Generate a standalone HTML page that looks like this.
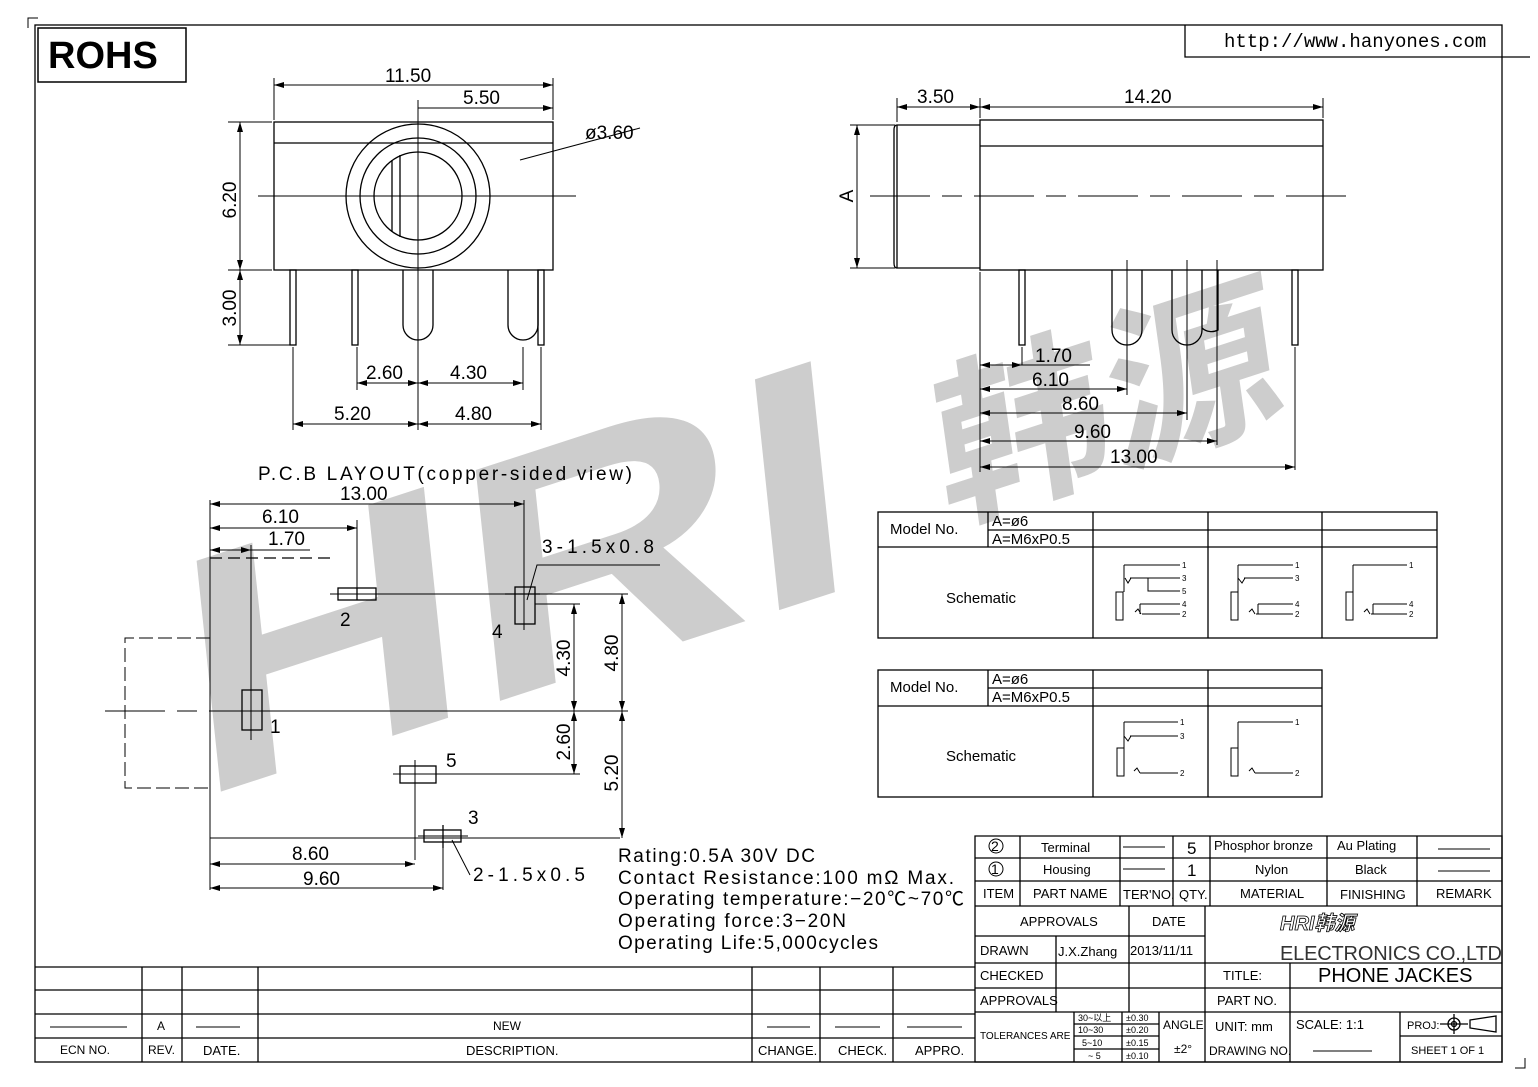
<!DOCTYPE html>
<html><head><meta charset="utf-8"><style>
html,body{margin:0;padding:0;background:#fff}
svg{display:block}
text{font-family:"Liberation Sans","Noto Sans CJK SC",sans-serif;fill:#000}
</style></head><body>
<svg width="1538" height="1087" viewBox="0 0 1538 1087" xmlns="http://www.w3.org/2000/svg">
<defs>
<marker id="a" viewBox="0 0 10 6" refX="10" refY="3" markerWidth="10" markerHeight="6" orient="auto-start-reverse" markerUnits="userSpaceOnUse"><path d="M0,0L10,3L0,6z" fill="#000"/></marker>
</defs>
<!-- watermark -->
<text transform="translate(195,800) rotate(-18) skewX(-12)" font-size="330" font-weight="bold" textLength="700" lengthAdjust="spacingAndGlyphs" style="fill:#cdcdcd">HRI</text>
<text transform="translate(945,520) rotate(-18) skewX(-10)" font-size="175" font-weight="bold" textLength="360" lengthAdjust="spacingAndGlyphs" style="fill:#cdcdcd;font-family:'Noto Sans CJK SC',sans-serif">韩源</text>
<g fill="none" stroke="#000" stroke-width="1.3">
<!-- frame -->
<rect x="35" y="25" width="1467" height="1037"/>
<path d="M28,28V18H38 M1525,1058V1068H1515" stroke-width="1"/>
<rect x="38" y="28" width="148" height="54" stroke-width="1.5"/>
<path d="M1185,25V57H1530"/>
<!-- front view -->
<rect x="274" y="122" width="279" height="148"/>
<line x1="274" y1="143" x2="553" y2="143"/>
<circle cx="418" cy="196" r="72"/><circle cx="418" cy="196" r="58"/><circle cx="418" cy="196" r="44"/>
<path d="M392,160V232M400,155V237"/>
<line x1="258" y1="196" x2="576" y2="196" stroke-width="1"/>
<line x1="418" y1="100" x2="418" y2="360" stroke-width="1"/>
<path d="M520,160L640,128" stroke-width="1"/>
<rect x="290" y="270" width="6" height="75"/><rect x="352" y="270" width="6" height="75"/>
<path d="M403,270V325A15,15 0 0 0 433,325V270"/>
<path d="M508,270V325A15,15 0 0 0 538,325V270"/><rect x="538" y="270" width="6" height="75"/>
<g stroke-width="1">
<path d="M274,120V78M553,120V78M228,122H272M228,270H272M228,345H290M293,347V430M357,347V390M418,347V430M523,347V390M541,347V430"/>
<line x1="274" y1="85" x2="553" y2="85" marker-start="url(#a)" marker-end="url(#a)"/>
<line x1="418" y1="108" x2="553" y2="108" marker-end="url(#a)"/>
<line x1="240" y1="122" x2="240" y2="270" marker-start="url(#a)" marker-end="url(#a)"/>
<line x1="240" y1="270" x2="240" y2="345" marker-start="url(#a)" marker-end="url(#a)"/>
<line x1="357" y1="383" x2="418" y2="383" marker-start="url(#a)" marker-end="url(#a)"/>
<line x1="418" y1="383" x2="523" y2="383" marker-start="url(#a)" marker-end="url(#a)"/>
<line x1="293" y1="424" x2="418" y2="424" marker-start="url(#a)" marker-end="url(#a)"/>
<line x1="418" y1="424" x2="541" y2="424" marker-start="url(#a)" marker-end="url(#a)"/>
</g>
<!-- side view -->
<path d="M897,125Q894,125 894,130V263Q894,268 897,268H980"/>
<path d="M897,125H980"/><line x1="897" y1="125" x2="897" y2="268"/>
<rect x="980" y="120" width="343" height="150"/>
<line x1="980" y1="146" x2="1323" y2="146"/>
<line x1="870" y1="196" x2="1350" y2="196" stroke-width="1" stroke-dasharray="60,12,20,12"/>
<rect x="1019" y="270" width="6" height="75"/><rect x="1292" y="270" width="6" height="75"/>
<path d="M1112,270V330A15,15 0 0 0 1142,330V270M1172,270V330A15,15 0 0 0 1202,330V270M1202,328A14,14 0 0 0 1218,330V270"/>
<g stroke-width="1">
<path d="M897,122V98M980,118V98M1323,118V98M850,125H895M850,268H895M980,272V472M1022,347V365M1127,260V395M1187,260V420M1217,260V445M1295,347V470M1022,365H1090"/>
<line x1="897" y1="107" x2="980" y2="107" marker-start="url(#a)" marker-end="url(#a)"/>
<line x1="980" y1="107" x2="1323" y2="107" marker-start="url(#a)" marker-end="url(#a)"/>
<line x1="857" y1="125" x2="857" y2="268" marker-start="url(#a)" marker-end="url(#a)"/>
<line x1="980" y1="365" x2="1022" y2="365" marker-start="url(#a)" marker-end="url(#a)"/>
<line x1="980" y1="389" x2="1127" y2="389" marker-start="url(#a)" marker-end="url(#a)"/>
<line x1="980" y1="413" x2="1187" y2="413" marker-start="url(#a)" marker-end="url(#a)"/>
<line x1="980" y1="441" x2="1217" y2="441" marker-start="url(#a)" marker-end="url(#a)"/>
<line x1="980" y1="467" x2="1295" y2="467" marker-start="url(#a)" marker-end="url(#a)"/>
</g>
<!-- PCB layout -->
<g stroke-width="1">
<path d="M210,558H330" stroke-dasharray="12,6" stroke-width="1.3"/>
<path d="M210,558V838" stroke-dasharray="14,4"/>
<path d="M210,638H125V788H210" stroke-dasharray="14,5"/>
<path d="M210,838H620M210,500V890M251,545V740M357,520V590M524,500V590"/>
<line x1="105" y1="711" x2="532" y2="711" stroke-dasharray="60,12,20,12"/>
<path d="M380,594H628M535,604H580M262,711H628M437,774H580M415,782V860M443,842V890"/>
<line x1="210" y1="504" x2="524" y2="504" marker-start="url(#a)" marker-end="url(#a)"/>
<line x1="210" y1="528" x2="357" y2="528" marker-start="url(#a)" marker-end="url(#a)"/>
<line x1="210" y1="550" x2="251" y2="550" marker-start="url(#a)" marker-end="url(#a)"/>
<path d="M251,550H310"/>
<line x1="574" y1="604" x2="574" y2="711" marker-start="url(#a)" marker-end="url(#a)"/>
<line x1="574" y1="711" x2="574" y2="774" marker-start="url(#a)" marker-end="url(#a)"/>
<line x1="622" y1="594" x2="622" y2="711" marker-start="url(#a)" marker-end="url(#a)"/>
<line x1="622" y1="711" x2="622" y2="838" marker-start="url(#a)" marker-end="url(#a)"/>
<line x1="210" y1="864" x2="415" y2="864" marker-start="url(#a)" marker-end="url(#a)"/>
<line x1="210" y1="888" x2="443" y2="888" marker-start="url(#a)" marker-end="url(#a)"/>
<path d="M527,600L537,565H660M452,840L470,875"/>
</g>
<rect x="242" y="690" width="20" height="40"/><line x1="251" y1="680" x2="251" y2="740" stroke-width="1"/>
<rect x="338" y="588" width="38" height="12"/><line x1="330" y1="594" x2="385" y2="594" stroke-width="1"/><line x1="357" y1="588" x2="357" y2="600"/>
<rect x="515" y="587" width="20" height="37"/><line x1="505" y1="594" x2="540" y2="594"/><line x1="524" y1="580" x2="524" y2="630" stroke-width="1"/>
<rect x="400" y="766" width="36" height="17"/><line x1="415" y1="760" x2="415" y2="790" stroke-width="1"/><line x1="393" y1="774" x2="440" y2="774" stroke-width="1"/>
<rect x="424" y="830" width="37" height="12"/><line x1="443" y1="825" x2="443" y2="848"/><line x1="418" y1="836" x2="468" y2="836" stroke-width="1"/>
<!-- tables -->
<rect x="878" y="512" width="559" height="126"/>
<path d="M988,530H1437M878,547H1437M988,512V547M1093,512V638M1208,512V638M1322,512V638"/>
<rect x="878" y="670" width="444" height="127"/>
<path d="M988,688H1322M878,706H1322M988,670V706M1093,670V797M1208,670V797"/>
<g stroke-width="1">
<path d="M1124,565H1180M1124,565V592M1130,578H1180M1148,578V591H1180M1140,604H1180M1140,604V614M1142,614H1180M1135,612L1138,609L1141,614M1125,578L1128,583L1131,578"/><rect x="1116" y="592" width="7" height="28"/>
<path d="M1238,565H1293M1238,565V592M1244,578H1293M1258,604H1293M1258,604V614M1256,614H1293M1249,612L1252,609L1255,614M1238,578L1242,583L1245,578"/><rect x="1231" y="592" width="7" height="28"/>
<path d="M1353,565H1407M1353,565V592M1373,604H1407M1373,604V614M1371,614H1407M1364,612L1367,609L1370,614"/><rect x="1346" y="592" width="7" height="28"/>
<path d="M1124,722H1178M1124,722V748M1130,736H1178M1124,736L1128,741L1131,736M1140,773H1178M1134,771L1137,768L1140,773"/><rect x="1117" y="748" width="7" height="28"/>
<path d="M1238,722H1293M1238,722V748M1255,773H1293M1249,771L1252,768L1255,773"/><rect x="1231" y="748" width="7" height="28"/>
</g>
<!-- title block -->
<path d="M975,836H1502V1062H975Z M975,858H1502M975,881H1502M975,906H1502M975,936H1205M975,963H1205M975,988H1502M975,1012H1502 M1205,963H1502"/>
<path d="M1020,836V906M1120,836V906M1173,836V906M1210,836V906M1327,836V906M1417,836V906"/>
<path d="M1056,936V1012M1129,906V1012M1205,906V1062M1290,963V1062M1400,1012V1062M1400,1036H1502M1074,1012V1062M1122,1012V1062M1159,1012V1062M1074,1024H1159M1074,1036H1159M1074,1049H1159"/>
<path d="M1123,847H1165M1123,869H1165M1438,849H1490M1438,871H1490M1313,1051H1372" stroke-width="1"/>
<!-- revision table -->
<path d="M35,967H975M35,990H975M35,1014H975M35,1038H975M142,967V1062M182,967V1062M258,967V1062M752,967V1062M820,967V1062M893,967V1062"/>
<path d="M50,1027H127M196,1027H240M767,1027H810M835,1027H880M907,1027H962" stroke-width="1"/>
<circle cx="1454" cy="1024" r="6"/><circle cx="1454" cy="1024" r="2.5"/><path d="M1440,1024H1468M1454,1014V1034M1470,1020L1496,1016V1032L1470,1028Z"/>
<circle cx="996" cy="846" r="7" stroke-width="1"/><circle cx="996" cy="869" r="7" stroke-width="1"/>
</g>
<!-- text -->
<g font-size="19">
<text x="48" y="68" font-size="38" font-weight="bold">ROHS</text>
<text x="1224" y="47" font-size="19" style="font-family:'Liberation Mono',monospace">http://www.hanyones.com</text>
<text x="385" y="82">11.50</text><text x="463" y="104">5.50</text><text x="585" y="139">ø3.60</text>
<text x="236" y="200" transform="rotate(-90 236 200)" text-anchor="middle">6.20</text>
<text x="236" y="308" transform="rotate(-90 236 308)" text-anchor="middle">3.00</text>
<text x="366" y="379">2.60</text><text x="450" y="379">4.30</text>
<text x="334" y="420">5.20</text><text x="455" y="420">4.80</text>
<text x="917" y="103">3.50</text><text x="1124" y="103">14.20</text>
<text x="853" y="196" transform="rotate(-90 853 196)" text-anchor="middle">A</text>
<text x="1035" y="362">1.70</text><text x="1032" y="386">6.10</text><text x="1062" y="410">8.60</text>
<text x="1074" y="438">9.60</text><text x="1110" y="463">13.00</text>
<text x="258" y="480" textLength="374">P.C.B LAYOUT(copper-sided view)</text>
<text x="340" y="500">13.00</text><text x="262" y="523">6.10</text><text x="268" y="545">1.70</text>
<text x="542" y="553" textLength="112">3-1.5x0.8</text>
<text x="340" y="626">2</text><text x="492" y="638">4</text><text x="270" y="733">1</text><text x="446" y="767">5</text><text x="468" y="824">3</text>
<text x="570" y="658" transform="rotate(-90 570 658)" text-anchor="middle">4.30</text>
<text x="570" y="742" transform="rotate(-90 570 742)" text-anchor="middle">2.60</text>
<text x="618" y="653" transform="rotate(-90 618 653)" text-anchor="middle">4.80</text>
<text x="618" y="773" transform="rotate(-90 618 773)" text-anchor="middle">5.20</text>
<text x="292" y="860">8.60</text><text x="303" y="885">9.60</text><text x="473" y="881" textLength="112">2-1.5x0.5</text>
<text x="618" y="862" textLength="197">Rating:0.5A 30V DC</text>
<text x="618" y="884" textLength="336">Contact Resistance:100 mΩ Max.</text>
<text x="618" y="905" textLength="346">Operating temperature:−20℃~70℃</text>
<text x="618" y="927" textLength="228">Operating force:3−20N</text>
<text x="618" y="949" textLength="260">Operating Life:5,000cycles</text>
</g>
<g font-size="15">
<text x="890" y="534">Model No.</text><text x="992" y="526">A=ø6</text><text x="992" y="544">A=M6xP0.5</text>
<text x="946" y="603">Schematic</text>
<text x="890" y="692">Model No.</text><text x="992" y="684">A=ø6</text><text x="992" y="702">A=M6xP0.5</text>
<text x="946" y="761">Schematic</text>
</g>
<g font-size="8">
<text x="1182" y="568">1</text><text x="1182" y="581">3</text><text x="1182" y="594">5</text><text x="1182" y="607">4</text><text x="1182" y="617">2</text>
<text x="1295" y="568">1</text><text x="1295" y="581">3</text><text x="1295" y="607">4</text><text x="1295" y="617">2</text>
<text x="1409" y="568">1</text><text x="1409" y="607">4</text><text x="1409" y="617">2</text>
<text x="1180" y="725">1</text><text x="1180" y="739">3</text><text x="1180" y="776">2</text>
<text x="1295" y="725">1</text><text x="1295" y="776">2</text>
</g>
<g font-size="13">
<text x="991" y="851" font-size="14">2</text><text x="991" y="874" font-size="14">1</text>
<text x="1041" y="852">Terminal</text><text x="1043" y="874">Housing</text>
<text x="1187" y="854" font-size="17">5</text><text x="1187" y="876" font-size="17">1</text>
<text x="1214" y="850">Phosphor bronze</text><text x="1337" y="850">Au Plating</text>
<text x="1255" y="874">Nylon</text><text x="1355" y="874">Black</text>
<text x="983" y="898">ITEM</text><text x="1033" y="898">PART NAME</text><text x="1123" y="899">TER'NO.</text><text x="1179" y="899">QTY.</text>
<text x="1240" y="898">MATERIAL</text><text x="1340" y="899">FINISHING</text><text x="1436" y="898">REMARK</text>
<text x="1020" y="926">APPROVALS</text><text x="1152" y="926">DATE</text>
<text x="980" y="955">DRAWN</text><text x="1058" y="956">J.X.Zhang</text><text x="1130" y="955">2013/11/11</text>
<text x="980" y="980">CHECKED</text><text x="980" y="1005">APPROVALS</text>
<text x="1223" y="980">TITLE:</text><text x="1217" y="1005">PART NO.</text>
<text x="980" y="1039" font-size="10">TOLERANCES ARE</text>
<g font-size="9"><text x="1078" y="1021">30~以上</text><text x="1078" y="1033">10~30</text><text x="1082" y="1046">5~10</text><text x="1088" y="1059">~ 5</text>
<text x="1126" y="1021">±0.30</text><text x="1126" y="1033">±0.20</text><text x="1126" y="1046">±0.15</text><text x="1126" y="1059">±0.10</text></g>
<text x="1163" y="1029" font-size="12">ANGLE</text><text x="1174" y="1053" font-size="12">±2°</text>
<text x="1215" y="1031">UNIT: mm</text><text x="1296" y="1029">SCALE:   1:1</text><text x="1407" y="1029" font-size="11">PROJ:</text>
<text x="1209" y="1055" font-size="12">DRAWING NO.</text><text x="1411" y="1054" font-size="11">SHEET   1  OF  1</text>
<text x="493" y="1030" font-size="12">NEW</text><text x="157" y="1030" font-size="12">A</text>
<text x="60" y="1054" font-size="12">ECN NO.</text><text x="148" y="1054" font-size="12">REV.</text><text x="203" y="1055">DATE.</text>
<text x="466" y="1055">DESCRIPTION.</text><text x="758" y="1055">CHANGE.</text><text x="838" y="1055">CHECK.</text><text x="915" y="1055">APPRO.</text>
</g>
<text x="1280" y="930" font-size="20" font-weight="bold" font-style="italic" style="fill:#fff;stroke:#000;stroke-width:0.8">HRI韩源</text>
<text x="1280" y="960" font-size="20" textLength="222" style="fill:#333">ELECTRONICS CO.,LTD</text>
<text x="1318" y="982" font-size="20">PHONE JACKES</text>
</svg>
</body></html>
